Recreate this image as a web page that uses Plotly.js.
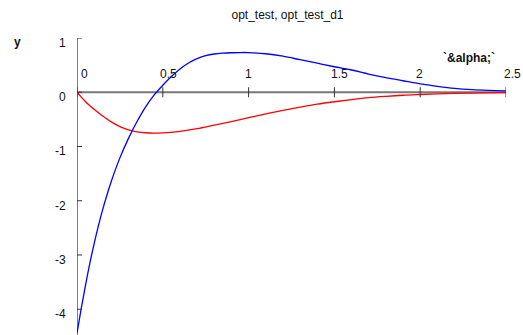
<!DOCTYPE html>
<html>
<head>
<meta charset="utf-8">
<script src="https://cdn.plot.ly/plotly-3.0.1.min.js"></script>
<style>
  html, body { margin: 0; padding: 0; background: #fff; }
  #chart { width: 523px; height: 335px; }
</style>
</head>
<body>
<div id="chart"></div>
<script>
// opt_test (red) and its derivative opt_test_d1 (blue), sampled along alpha
const optTestX = [0, 0.025, 0.05, 0.075, 0.1, 0.125, 0.15, 0.175, 0.2, 0.25, 0.3, 0.35, 0.4, 0.45, 0.5,
                  0.6, 0.7, 0.8, 0.9, 1.0, 1.1, 1.2, 1.3, 1.4, 1.5, 1.6, 1.7, 1.8, 1.9, 2.0, 2.1, 2.2, 2.3, 2.4, 2.5];
const optTestY = [0, -0.09, -0.175, -0.25, -0.315, -0.377, -0.437, -0.494, -0.546, -0.634, -0.695, -0.73, -0.747, -0.752, -0.75,
                  -0.72, -0.67, -0.605, -0.54, -0.47, -0.40, -0.335, -0.275, -0.22, -0.175, -0.135, -0.10, -0.075, -0.055,
                  -0.042, -0.031, -0.022, -0.016, -0.011, -0.007];

const optTestD1X = [0, 0.025, 0.05, 0.075, 0.1, 0.125, 0.15, 0.175, 0.2, 0.25, 0.3, 0.35, 0.4, 0.45, 0.5, 0.55, 0.6, 0.65,
                    0.7, 0.75, 0.8, 0.85, 0.9, 0.95, 1.0, 1.1, 1.2, 1.3, 1.4, 1.5, 1.6, 1.7, 1.8, 1.9, 2.0, 2.1, 2.2, 2.3, 2.4, 2.5];
const optTestD1Y = [-4.44, -3.98, -3.55, -3.15, -2.79, -2.46, -2.16, -1.89, -1.64, -1.21, -0.85, -0.54, -0.27, -0.05, 0.13, 0.29, 0.43, 0.54,
                    0.62, 0.675, 0.705, 0.72, 0.728, 0.732, 0.731, 0.71, 0.665, 0.60, 0.535, 0.47, 0.41, 0.335, 0.27, 0.212, 0.155,
                    0.11, 0.072, 0.048, 0.034, 0.025];

const xTickVals = [0, 0.5, 1, 1.5, 2, 2.5];
const xTickText = ['0', '0.5', '1', '1.5', '2', '2.5'];
const yTickVals = [1, 0, -1, -2, -3, -4];
const yTickText = ['1', '0', '-1', '-2', '-3', '-4'];

const chartTitle = 'opt_test, opt_test_d1';
const xLabel = '`&amp;alpha;`';
const yLabel = 'y';

// view window
const X_RANGE = [0, 2.5];
const Y_RANGE = [-4.475, 1];
const FONT = 'Liberation Sans, Arial, sans-serif';
// small horizontal nudges for the alpha tick labels (px)
const X_LABEL_NUDGE = [7, 6, 0, 5, -1, 6];

const traces = [
  {
    x: optTestX, y: optTestY, type: 'scatter', mode: 'lines', name: 'opt_test',
    line: { color: '#ff0000', width: 1.3, shape: 'spline', smoothing: 1 },
    hoverinfo: 'skip'
  },
  {
    x: optTestD1X, y: optTestD1Y, type: 'scatter', mode: 'lines', name: 'opt_test_d1',
    line: { color: '#0000ff', width: 1.3, shape: 'spline', smoothing: 1 },
    hoverinfo: 'skip'
  }
];

// axis lines crossing at the origin, with cross ticks
const shapes = [
  { type: 'line', xref: 'x', yref: 'y', x0: X_RANGE[0], x1: X_RANGE[1], y0: 0, y1: 0,
    line: { color: '#777777', width: 2 }, layer: 'below' },
  { type: 'line', xref: 'x', yref: 'y', x0: 0, x1: 0, y0: Y_RANGE[0], y1: Y_RANGE[1],
    line: { color: '#555555', width: 1.5 }, layer: 'below' }
];
xTickVals.forEach(v => shapes.push({
  type: 'line', xref: 'x', yref: 'y', ysizemode: 'pixel', yanchor: 0,
  x0: v, x1: v, y0: -5, y1: 5, line: { color: '#333333', width: 1 }
}));
yTickVals.forEach(v => shapes.push({
  type: 'line', xref: 'x', yref: 'y', xsizemode: 'pixel', xanchor: 0,
  x0: -5, x1: 5, y0: v, y1: v, line: { color: '#333333', width: 1 }
}));

const annotations = [];
xTickVals.forEach((v, i) => annotations.push({
  xref: 'x', yref: 'y', x: v, y: 0, text: xTickText[i], showarrow: false,
  xanchor: 'center', yanchor: 'bottom', yshift: 9, xshift: X_LABEL_NUDGE[i],
  font: { family: FONT, size: 12, color: '#111111' }
}));
yTickVals.forEach((v, i) => annotations.push({
  xref: 'x', yref: 'y', x: 0, y: v, text: yTickText[i], showarrow: false,
  xanchor: 'right', yanchor: 'middle', xshift: -9, yshift: -5,
  font: { family: FONT, size: 12, color: '#111111' }
}));
annotations.push({
  xref: 'x', yref: 'y', x: 0, y: 1, text: '<b>' + yLabel + '</b>', showarrow: false,
  xanchor: 'center', yanchor: 'middle', xshift: -59.5, yshift: -4,
  font: { family: FONT, size: 12, color: '#111111' }
});
annotations.push({
  xref: 'x', yref: 'y', x: 2.5, y: 0, text: '<b>' + xLabel + '</b>', showarrow: false,
  xanchor: 'center', yanchor: 'middle', xshift: -37, yshift: 34,
  font: { family: FONT, size: 12, color: '#111111' }
});

const hiddenAxis = {
  showline: false, showgrid: false, zeroline: false, showticklabels: false,
  ticks: '', fixedrange: true
};

const layout = {
  width: 523, height: 335,
  margin: { l: 77, r: 17.3, t: 37.7, b: 0 },
  paper_bgcolor: '#ffffff', plot_bgcolor: '#ffffff',
  showlegend: false,
  title: {
    text: chartTitle, xref: 'container', yref: 'container',
    x: 287.5 / 523, xanchor: 'center', y: 1 - 15 / 335, yanchor: 'middle',
    font: { family: FONT, size: 12, color: '#111111' }
  },
  xaxis: Object.assign({ range: X_RANGE }, hiddenAxis),
  yaxis: Object.assign({ range: Y_RANGE }, hiddenAxis),
  shapes: shapes,
  annotations: annotations
};

Plotly.newPlot('chart', traces, layout, { staticPlot: true, displayModeBar: false });
</script>
</body>
</html>
